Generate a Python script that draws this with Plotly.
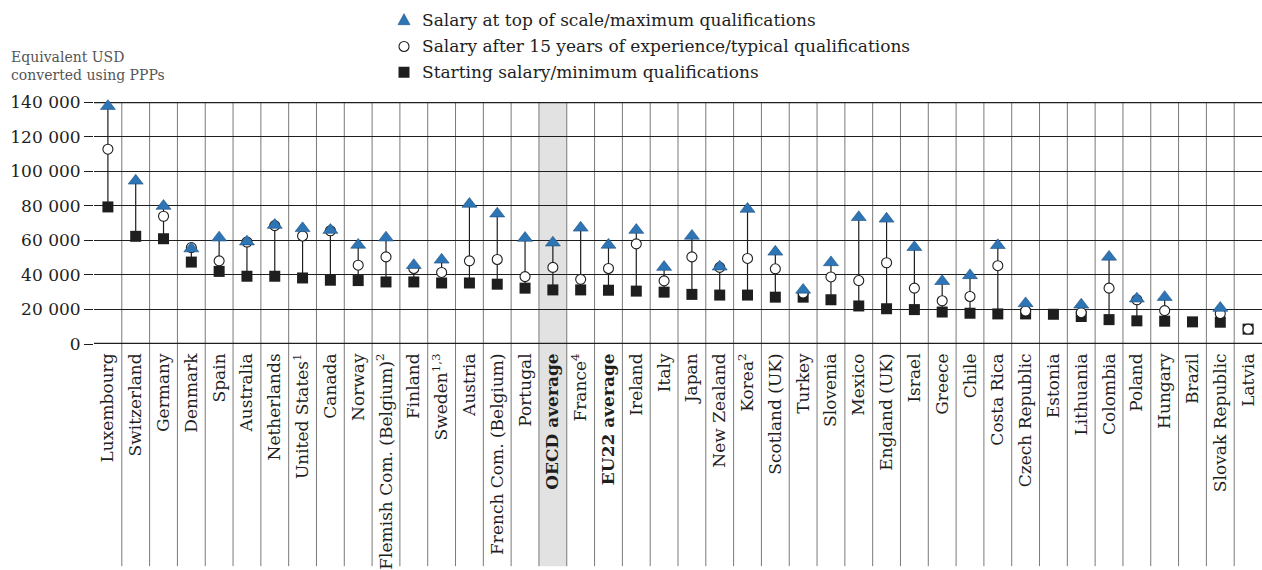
import plotly.graph_objects as go

# Teachers' statutory salaries, equivalent USD converted using PPPs
categories = [
    "Luxembourg", "Switzerland", "Germany", "Denmark", "Spain", "Australia",
    "Netherlands", "United States<sup>1</sup>", "Canada", "Norway",
    "Flemish Com. (Belgium)<sup>2</sup>", "Finland", "Sweden<sup>1,3</sup>",
    "Austria", "French Com. (Belgium)", "Portugal", "<b>OECD average</b>",
    "France<sup>4</sup>", "<b>EU22 average</b>", "Ireland", "Italy", "Japan",
    "New Zealand", "Korea<sup>2</sup>", "Scotland (UK)", "Turkey", "Slovenia",
    "Mexico", "England (UK)", "Israel", "Greece", "Chile", "Costa Rica",
    "Czech Republic", "Estonia", "Lithuania", "Colombia", "Poland", "Hungary",
    "Brazil", "Slovak Republic", "Latvia",
]

top_of_scale = [
    137600, 94400, 79800, 55200, 61500, 59200, 68800, 66900, 65900, 57300,
    61500, 45600, 48700, 81000, 75400, 61300, 58600, 67200, 57300, 65900,
    44500, 62500, 44700, 78100, 53300, 31300, 47200, 73300, 72400, 56000,
    36300, 39700, 57100, 23500, None, 22700, 50400, 26200, 27100, None,
    20800, None,
]

after_15_years = [
    112700, None, 73900, 55800, 48100, 59000, 68500, 62500, 65500, 45600,
    50400, 43700, 41400, 48100, 48900, 39000, 44300, 37400, 43700, 57900,
    36500, 50400, 44300, 49500, 43500, 29500, 38800, 36700, 47000, 32300,
    25000, 27500, 45300, 19100, None, 18100, 32300, 25600, 19300, None,
    17600, 8600,
]

starting = [
    79300, 62300, 60900, 47400, 42000, 39200, 39200, 38200, 36900, 36700,
    35900, 35900, 35300, 35300, 34600, 32300, 31300, 31300, 31100, 30600,
    30000, 28700, 28300, 28300, 27100, 27100, 25600, 22000, 20400, 19900,
    18500, 17800, 17400, 17400, 17200, 15900, 14100, 13400, 13200, 12800,
    12600, 8600,
]

tick_values = [0, 20000, 40000, 60000, 80000, 100000, 120000, 140000]
tick_labels = ["0", "20 000", "40 000", "60 000", "80 000", "100 000", "120 000", "140 000"]

legend_labels = [
    "Salary at top of scale/maximum qualifications",
    "Salary after 15 years of experience/typical qualifications",
    "Starting salary/minimum qualifications",
]
highlight = "<b>OECD average</b>"

FONT = "DejaVu Serif"
INK = "#1e1e1e"
BLUE = "#2e75b6"

W, H = 1262, 570
ML, MR, MT, MB = 94, 0, 102, 224
PW, PH = W - ML - MR, H - MT - MB


def px_x(px):
    return (px - ML) / PW


def px_y(py):
    return (H - MB - py) / PH


n = len(categories)
xs = list(range(n))

# Vertical stems from starting salary up to the highest value present
stem_x, stem_y = [], []
for i in xs:
    vals = [v for v in (starting[i], after_15_years[i], top_of_scale[i]) if v is not None]
    if len(vals) > 1:
        stem_x += [i, i, None]
        stem_y += [min(vals), max(vals), None]

fig = go.Figure()
fig.add_trace(go.Scatter(x=stem_x, y=stem_y, mode="lines", cliponaxis=False,
                         line=dict(color=INK, width=1.2), hoverinfo="skip", showlegend=False))
fig.add_trace(go.Scatter(x=xs, y=starting, mode="markers", name=legend_labels[2],
                         cliponaxis=False,
                         marker=dict(symbol="square", size=11, color=INK,
                                     line=dict(width=0)), showlegend=False))
fig.add_trace(go.Scatter(x=xs, y=after_15_years, mode="markers", name=legend_labels[1],
                         cliponaxis=False,
                         marker=dict(symbol="circle", size=10, color="white",
                                     line=dict(width=1.1, color=INK)), showlegend=False))
fig.add_trace(go.Scatter(x=xs, y=top_of_scale, mode="markers", name=legend_labels[0],
                         cliponaxis=False,
                         marker=dict(symbol="triangle-up", size=13, color=BLUE,
                                     line=dict(width=0.6, color="#1f4f7d")), showlegend=False))

shapes = []
bottom = px_y(H)
hi = categories.index(highlight)
shapes.append(dict(type="rect", xref="x", yref="paper", x0=hi - 0.5, x1=hi + 0.5,
                   y0=bottom, y1=1, fillcolor="#e2e2e2", line=dict(width=0), layer="below"))
for i in range(n - 1):
    shapes.append(dict(type="line", xref="x", yref="paper", x0=i + 0.5, x1=i + 0.5,
                       y0=bottom, y1=1, line=dict(color="#7a7a7a", width=1), layer="below"))
# Heavier frame lines at the top and at zero
for yv in (tick_values[0], tick_values[-1]):
    shapes.append(dict(type="line", xref="paper", yref="y", x0=0, x1=1, y0=yv, y1=yv,
                       line=dict(color=INK, width=2.6), layer="below"))

# Legend symbols
lx = px_x(404)
rows = [19, 46, 72]
shapes.append(dict(type="path", xref="paper", yref="paper", xsizemode="pixel",
                   ysizemode="pixel", xanchor=lx, yanchor=px_y(rows[0]),
                   path="M -6,-5 L 6,-5 L 0,6 Z", fillcolor=BLUE,
                   line=dict(color="#1f4f7d", width=0.6)))
shapes.append(dict(type="circle", xref="paper", yref="paper", xsizemode="pixel",
                   ysizemode="pixel", xanchor=lx, yanchor=px_y(rows[1]),
                   x0=-5, x1=5, y0=-5, y1=5, fillcolor="white",
                   line=dict(color=INK, width=1.1)))
shapes.append(dict(type="rect", xref="paper", yref="paper", xsizemode="pixel",
                   ysizemode="pixel", xanchor=lx, yanchor=px_y(rows[2]),
                   x0=-5.5, x1=5.5, y0=-5.5, y1=5.5, fillcolor=INK, line=dict(width=0)))

annotations = []
for label, row in zip(legend_labels, rows):
    annotations.append(dict(text=label, xref="paper", yref="paper", x=px_x(420), y=px_y(row),
                            xanchor="left", yanchor="middle", showarrow=False,
                            font=dict(family=FONT, size=17, color=INK)))
annotations.append(dict(text="Equivalent USD<br>converted using PPPs", xref="paper",
                        yref="paper", x=px_x(9), y=px_y(66), xanchor="left",
                        yanchor="middle", align="left", showarrow=False,
                        font=dict(family=FONT, size=14, color="#555555")))

fig.update_layout(
    width=W, height=H, autosize=False,
    margin=dict(l=ML, r=MR, t=MT, b=MB, pad=0),
    paper_bgcolor="white", plot_bgcolor="white",
    font=dict(family=FONT, size=17, color=INK),
    shapes=shapes, annotations=annotations, showlegend=False,
    xaxis=dict(range=[-0.5, n - 0.5], tickmode="array", tickvals=xs, ticktext=categories,
               tickangle=-90, showgrid=False, zeroline=False, showline=False, ticks="",
               ticklabelstandoff=5, tickfont=dict(family=FONT, size=17, color=INK),
               fixedrange=True),
    yaxis=dict(range=[0, 140000], tickmode="array", tickvals=tick_values, ticktext=tick_labels,
               showgrid=True, gridcolor=INK, gridwidth=1, zeroline=False, showline=False,
               ticks="outside", ticklen=9, tickcolor=INK, tickwidth=1,
               tickfont=dict(family=FONT, size=17, color=INK), fixedrange=True),
)

fig.write_html("out.html")
